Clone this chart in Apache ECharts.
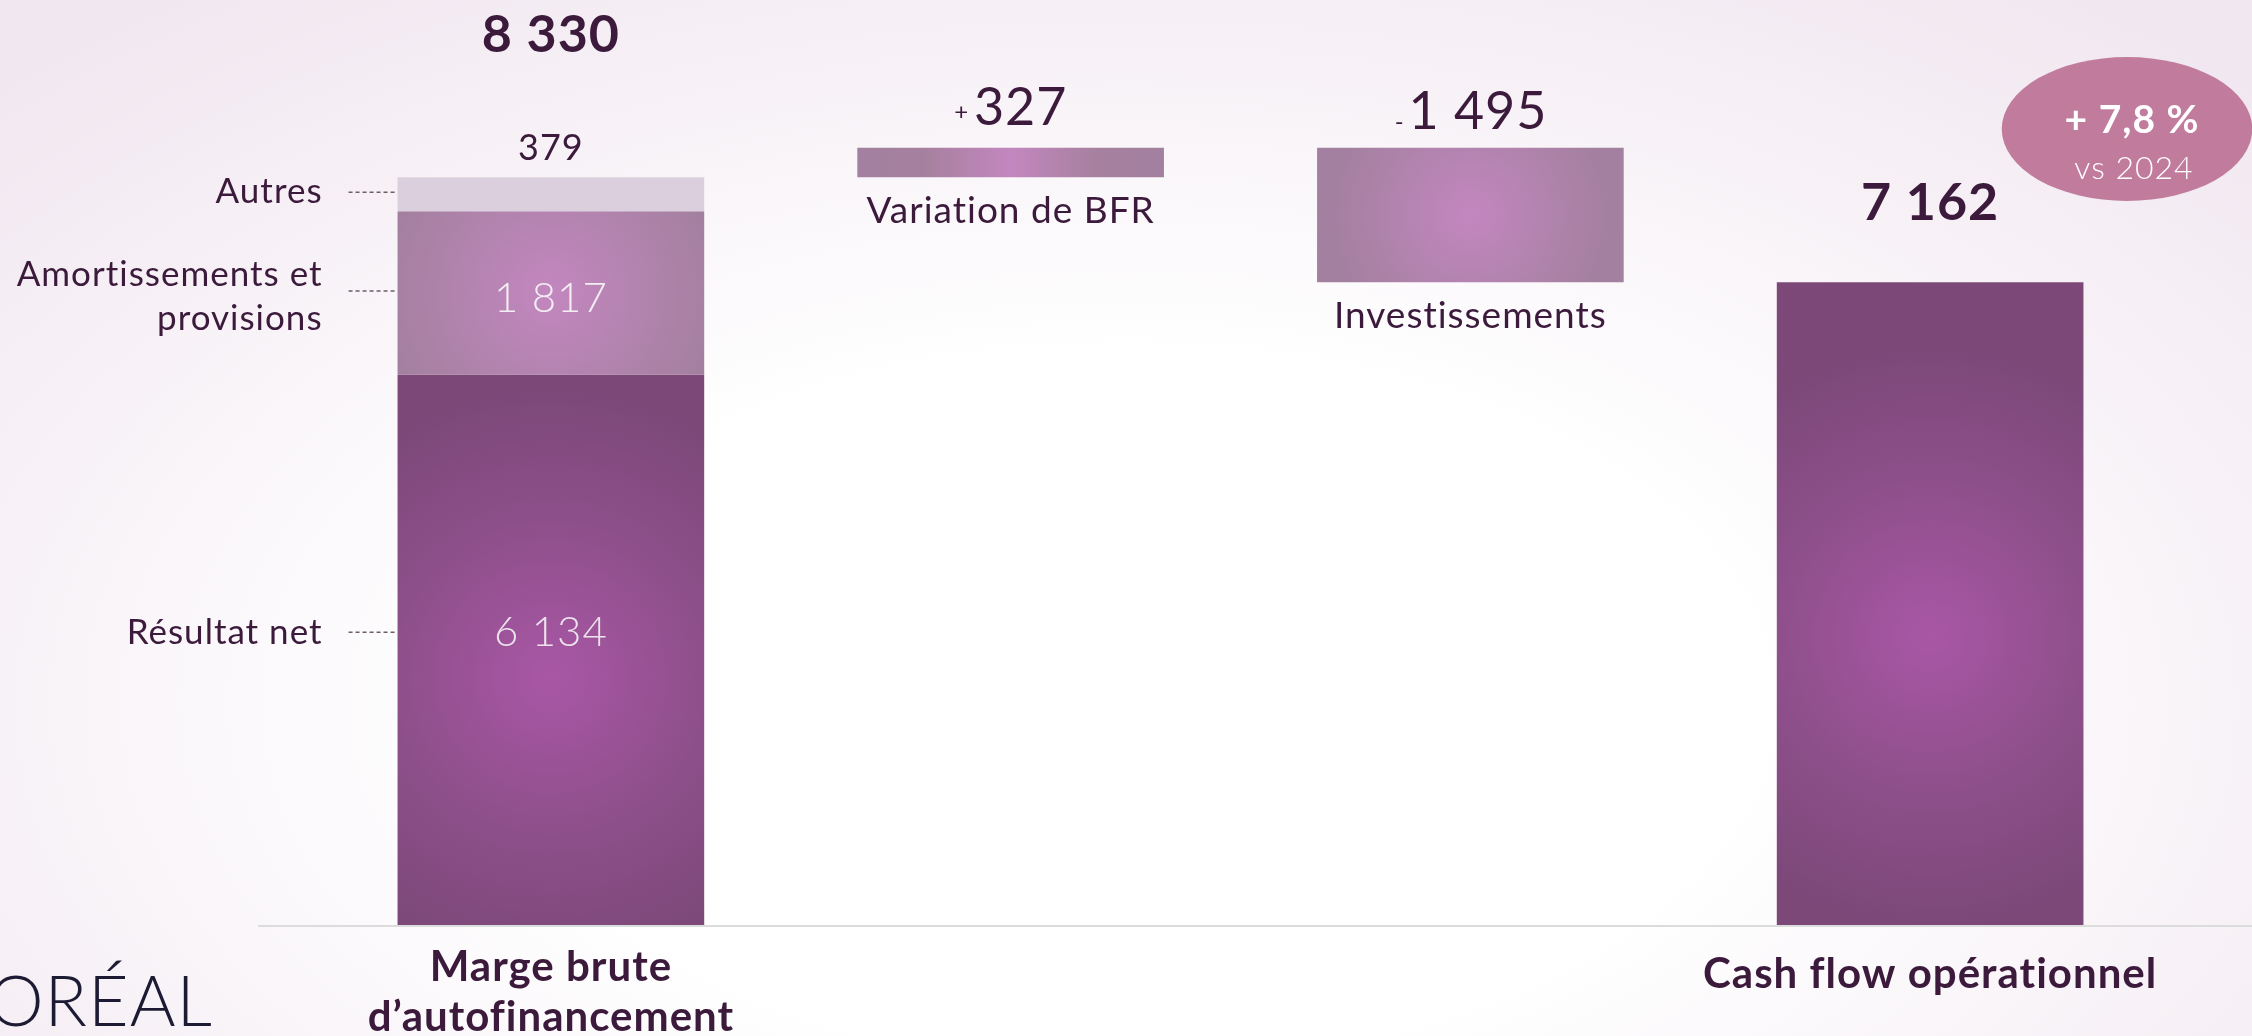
<!DOCTYPE html>
<html>
<head>
<meta charset="utf-8">
<script src="https://cdn.jsdelivr.net/npm/echarts@6/dist/echarts.min.js"></script>
<style>
  html, body { margin: 0; padding: 0; }
  body {
    width: 2252px; height: 1036px; overflow: hidden;
    background: radial-gradient(ellipse 70% 85% at 50% 68%, #ffffff 40%, #f1e7f0 100%);
  }
  #chart { width: 2252px; height: 1036px; }
</style>
</head>
<body>
<div id="chart"></div>
<script>
// données (M€)
var categories = ['Marge brute\nd\u2019autofinancement', '', '', 'Cash flow opérationnel'];
var segmentNames = ['Résultat net', 'Amortissements et\nprovisions', 'Autres'];
var stepNames = ['', 'Variation de BFR', 'Investissements', ''];
var resultatNet = [6134, '-', '-', '-'];
var amortissements = [1817, '-', '-', '-'];
var autres = [379, '-', '-', '-'];
var variationBFR = ['-', 327, '-', '-'];
var investissements = ['-', '-', 1495, '-'];
var cashFlow = ['-', '-', '-', 7162];
var badgeMain = '+ 7,8 %';
var badgeSub = 'vs 2024';

var margeBrute = resultatNet[0] + amortissements[0] + autres[0];
var afterBFR = margeBrute + variationBFR[1];
var base = ['-', margeBrute, afterBFR - investissements[2], '-'];

function fmt(v) {
  return String(v).replace(/\B(?=(\d{3})+(?!\d))/g, ' ');
}

// un léger interlettrage (supprime aussi les ligatures "ti", "fi" de Lato)
var origFillText = CanvasRenderingContext2D.prototype.fillText;
CanvasRenderingContext2D.prototype.fillText = function () {
  this.letterSpacing = '1px';
  return origFillText.apply(this, arguments);
};

var dark = '#3b1a3c';
var font = 'Lato, "Open Sans", sans-serif';

var radialDark = {
  type: 'radial', x: 0.5, y: 0.55, r: 0.95,
  colorStops: [{ offset: 0, color: '#a957a5' }, { offset: 0.55, color: '#8d4f8a' }, { offset: 1, color: '#7b4878' }]
};
var radialLight = {
  type: 'radial', x: 0.5, y: 0.5, r: 1.05,
  colorStops: [{ offset: 0, color: '#c387bf' }, { offset: 1, color: '#a3809f' }]
};
var linearLight = {
  type: 'linear', x: 0, y: 0, x2: 1, y2: 0,
  colorStops: [
    { offset: 0, color: '#a3809f' }, { offset: 0.22, color: '#a6819f' },
    { offset: 0.5, color: '#c387bf' },
    { offset: 0.78, color: '#a6819f' }, { offset: 1, color: '#a3809f' }
  ]
};

// annotations à gauche de la première barre
var segData = [
  [0, resultatNet[0] / 2],
  [0, resultatNet[0] + amortissements[0] / 2],
  [0, margeBrute - autres[0] / 2]
];

var dom = document.getElementById('chart');
var myChart = echarts.init(dom, null, { renderer: 'canvas' });

var option = {
  animation: false,
  textStyle: { fontFamily: font },
  grid: { left: 321, right: 92, top: 27, bottom: 110, containLabel: false, outerBoundsMode: 'none' },
  xAxis: {
    type: 'category',
    data: categories.map(function (c, i) {
      return i === 3 ? { value: c, textStyle: { padding: [7, 0, 0, 0] } } : c;
    }),
    axisLine: { show: false },
    axisTick: { show: false },
    axisLabel: {
      interval: 0, margin: 16, color: dark, fontSize: 42, fontWeight: 'bold',
      lineHeight: 50, fontFamily: font
    }
  },
  yAxis: { type: 'value', min: 0, max: 10000, show: false, splitLine: { show: false } },
  series: [
    {
      name: 'base', type: 'bar', stack: 'w', barWidth: '66.7%', silent: true,
      itemStyle: { color: 'transparent' },
      data: base.map(function (v, i) {
        return {
          value: v,
          label: {
            show: !!stepNames[i], position: 'insideTop', distance: 12,
            formatter: stepNames[i], color: dark, fontSize: 37, lineHeight: 44, fontFamily: font
          }
        };
      })
    },
    {
      name: 'Résultat net', type: 'bar', stack: 'w',
      itemStyle: { color: radialDark },
      label: {
        show: true, position: 'inside', offset: [0, -18], color: '#ece3ec',
        fontSize: 42, fontWeight: 300, fontFamily: font,
        formatter: function (p) { return fmt(p.value); }
      },
      data: resultatNet
    },
    {
      name: 'Amortissements et provisions', type: 'bar', stack: 'w',
      itemStyle: { color: radialLight },
      label: {
        show: true, position: 'inside', offset: [0, 6], color: '#f4eef4',
        fontSize: 42, fontWeight: 300, fontFamily: font,
        formatter: function (p) { return fmt(p.value); }
      },
      data: amortissements
    },
    {
      name: 'Autres', type: 'bar', stack: 'w',
      itemStyle: { color: '#dccfdd' },
      label: {
        show: true, position: 'top', distance: 11,
        formatter: function (p) { return '{t|' + fmt(margeBrute) + '}\n{v|' + fmt(p.value) + '}'; },
        rich: {
          t: { fontSize: 52, fontWeight: 'bold', color: dark, lineHeight: 190, fontFamily: font },
          v: { fontSize: 36, color: dark, lineHeight: 36, fontFamily: font }
        }
      },
      data: autres
    },
    {
      name: 'Variation de BFR', type: 'bar', stack: 'w',
      itemStyle: { color: linearLight },
      label: {
        show: true, position: 'top', distance: 12,
        formatter: function (p) { return '{s|+ }{v|' + fmt(p.value) + '}'; },
        rich: {
          s: { fontSize: 24, color: dark, fontFamily: font, padding: [10, 0, 0, 0] },
          v: { fontSize: 52, color: dark, lineHeight: 56, fontFamily: font }
        }
      },
      data: variationBFR
    },
    {
      name: 'Investissements', type: 'bar', stack: 'w',
      itemStyle: { color: radialLight },
      label: {
        show: true, position: 'top', distance: 8,
        formatter: function (p) { return '{s|- }{v|' + fmt(p.value) + '}'; },
        rich: {
          s: { fontSize: 24, color: dark, fontFamily: font, padding: [22, 0, 0, 0] },
          v: { fontSize: 52, color: dark, lineHeight: 56, fontFamily: font }
        }
      },
      data: investissements
    },
    {
      name: 'Cash flow opérationnel', type: 'bar', stack: 'w',
      itemStyle: { color: radialDark },
      label: {
        show: true, position: 'top', distance: 51, color: dark,
        fontSize: 52, fontWeight: 'bold', lineHeight: 56, fontFamily: font,
        formatter: function (p) { return fmt(p.value); }
      },
      data: cashFlow
    },
    {
      name: 'annotations', type: 'custom', silent: true,
      encode: { x: 0, y: 1 },
      data: segData,
      z: 5,
      renderItem: function (params, api) {
        var p = api.coord([api.value(0), api.value(1)]);
        var half = api.size([1, 0])[0] * 0.667 / 2;
        var edge = p[0] - half;
        var y = p[1] + (params.dataIndex === 0 ? -18 : -2);
        return {
          type: 'group',
          children: [
            {
              type: 'line',
              shape: { x1: edge - 49, y1: y, x2: edge, y2: y },
              style: { stroke: '#6d5d6d', lineWidth: 1.5, lineDash: [4, 3] }
            },
            {
              type: 'text', x: edge - 75, y: y + (params.dataIndex === 1 ? 6 : 0),
              style: {
                text: segmentNames[params.dataIndex], align: 'right', verticalAlign: 'middle',
                fontSize: 35, fontFamily: font, fill: dark, lineHeight: 44
              }
            }
          ]
        };
      }
    }
  ],
  graphic: [
    {
      type: 'line', z: 100, silent: true,
      shape: { x1: 258, y1: 926, x2: 2252, y2: 926 },
      style: { stroke: '#dcdcdc', lineWidth: 2 }
    },
    {
      type: 'text', z: 100, x: 213, y: 1003,
      style: {
        text: 'L\u2019ORÉAL', align: 'right', verticalAlign: 'middle',
        fontSize: 70, fontWeight: 300, fontFamily: font, fill: '#1d1a33'
      }
    },
    {
      type: 'group', x: 2127, y: 129, z: 100,
      children: [
        {
          type: 'circle', shape: { cx: 0, cy: 0, r: 72 }, scaleX: 1.74,
          style: { fill: '#c17c9d' }
        },
        {
          type: 'text', x: 5, y: -9,
          style: {
            text: badgeMain, align: 'center', verticalAlign: 'middle',
            fontSize: 39, fontWeight: 'bold', fontFamily: font, fill: '#ffffff'
          }
        },
        {
          type: 'text', x: 7, y: 40,
          style: {
            text: badgeSub, align: 'center', verticalAlign: 'middle',
            fontSize: 32, fontWeight: 300, fontFamily: font, fill: '#ffffff'
          }
        }
      ]
    }
  ]
};

if (option && typeof option === 'object') {
  myChart.setOption(option, true);
}
</script>
</body>
</html>
